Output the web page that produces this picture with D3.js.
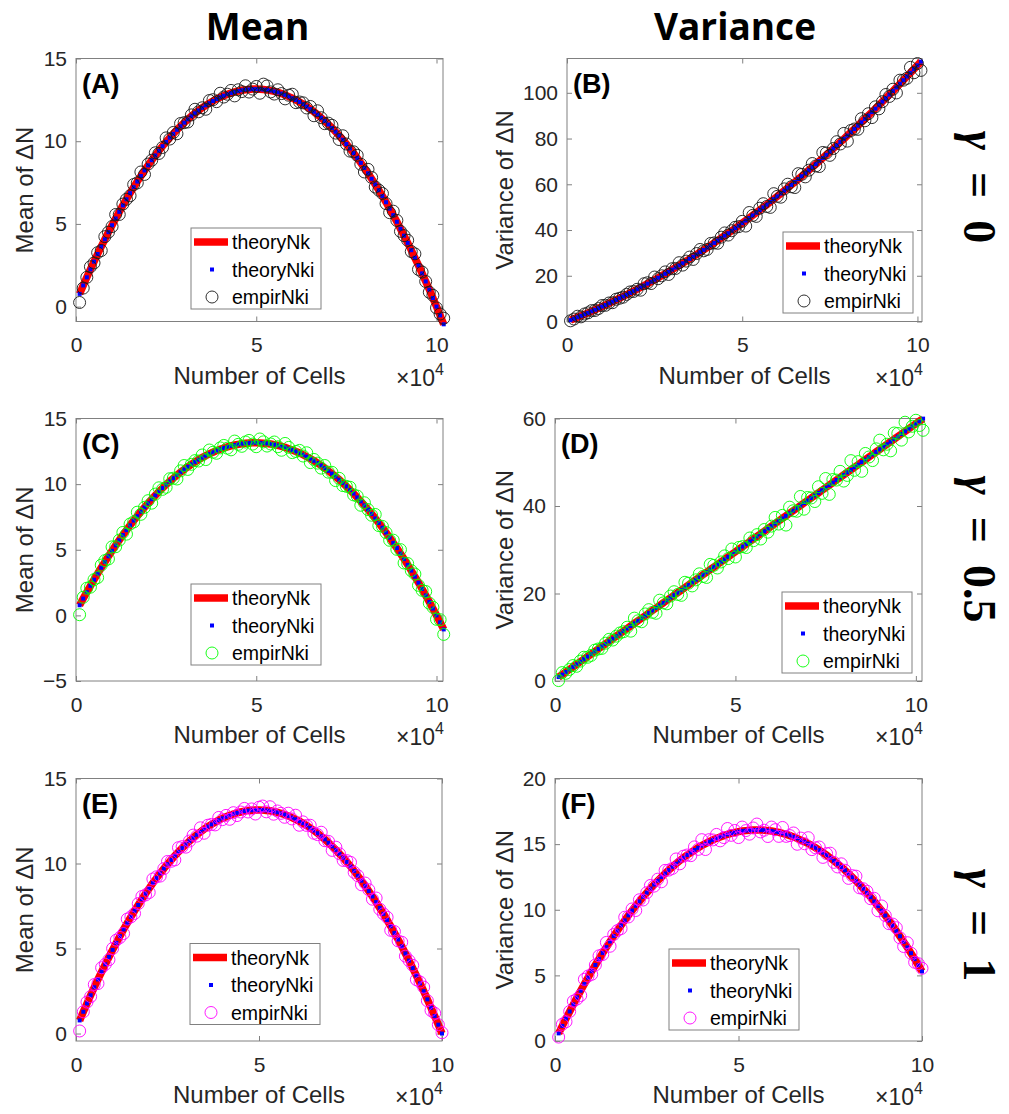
<!DOCTYPE html>
<html>
<head>
<meta charset="utf-8">
<script src="https://d3js.org/d3.v7.min.js"></script>
<style>
  body { margin: 0; background: #fff; }
  svg { font-family: "Liberation Sans", Arial, sans-serif; }
</style>
</head>
<body>
<div id="chart"></div>
<script>
// number of cells for every sample (shown in units of 10^4 on the axis)
const cells = [1000, 2000, 3000, 4000, 5000, 6000, 7000, 8000, 9000, 10000,
  11000, 12000, 13000, 14000, 15000, 16000, 17000, 18000, 19000, 20000,
  21000, 22000, 23000, 24000, 25000, 26000, 27000, 28000, 29000, 30000,
  31000, 32000, 33000, 34000, 35000, 36000, 37000, 38000, 39000, 40000,
  41000, 42000, 43000, 44000, 45000, 46000, 47000, 48000, 49000, 50000,
  51000, 52000, 53000, 54000, 55000, 56000, 57000, 58000, 59000, 60000,
  61000, 62000, 63000, 64000, 65000, 66000, 67000, 68000, 69000, 70000,
  71000, 72000, 73000, 74000, 75000, 76000, 77000, 78000, 79000, 80000,
  81000, 82000, 83000, 84000, 85000, 86000, 87000, 88000, 89000, 90000,
  91000, 92000, 93000, 94000, 95000, 96000, 97000, 98000, 99000, 100000,
  101000, 102000];

// theory mean of dN (same curve in A, C, E)
const meanTheory = [0.77, 1.28, 1.77, 2.25, 2.72, 3.18, 3.63, 4.07, 4.50, 4.92,
  5.33, 5.73, 6.12, 6.49, 6.86, 7.22, 7.56, 7.90, 8.23, 8.54,
  8.85, 9.14, 9.42, 9.70, 9.96, 10.21, 10.45, 10.69, 10.91, 11.12,
  11.32, 11.51, 11.69, 11.86, 12.02, 12.17, 12.30, 12.43, 12.55, 12.66,
  12.75, 12.84, 12.91, 12.98, 13.03, 13.08, 13.11, 13.13, 13.15, 13.15,
  13.14, 13.12, 13.10, 13.06, 13.01, 12.95, 12.88, 12.80, 12.70, 12.60,
  12.49, 12.37, 12.24, 12.09, 11.94, 11.78, 11.60, 11.42, 11.22, 11.01,
  10.80, 10.57, 10.34, 10.09, 9.83, 9.56, 9.28, 8.99, 8.69, 8.38,
  8.06, 7.73, 7.39, 7.04, 6.68, 6.31, 5.92, 5.53, 5.13, 4.71,
  4.29, 3.85, 3.41, 2.95, 2.49, 2.01, 1.52, 1.03, 0.52, 0.00,
  -0.53, -1.07];

const empirA = [0.25, 1.12, 1.77, 2.41, 2.64, 3.26, 3.39, 4.23, 4.50, 4.84,
  5.57, 5.57, 6.20, 6.49, 6.70, 7.38, 7.48, 8.14, 7.99, 8.62,
  8.85, 9.30, 9.26, 9.62, 10.20, 10.13, 10.53, 10.45, 11.07, 11.12,
  11.16, 11.59, 11.93, 11.78, 12.02, 11.93, 12.46, 12.51, 12.39, 12.90,
  12.67, 12.84, 13.07, 12.74, 13.11, 13.00, 13.35, 12.97, 13.15, 13.31,
  12.90, 13.45, 13.34, 12.98, 12.85, 13.11, 12.88, 12.56, 12.78, 12.84,
  12.33, 12.37, 12.32, 12.01, 12.10, 11.54, 11.84, 11.42, 11.06, 11.09,
  10.96, 10.49, 10.10, 10.33, 9.83, 9.40, 9.36, 9.15, 8.61, 8.14,
  8.30, 7.81, 7.23, 7.04, 6.84, 6.23, 5.68, 5.77, 5.21, 4.55,
  4.29, 4.01, 3.33, 3.19, 2.25, 2.09, 1.52, 0.87, 0.68, -0.08,
  -0.45, -0.70];

const empirC = [0.05, 1.38, 2.07, 2.15, 2.72, 2.88, 3.83, 4.17, 4.30, 5.22,
  5.23, 5.73, 6.32, 6.19, 6.96, 7.12, 7.86, 7.70, 8.23, 8.74,
  8.55, 9.24, 9.72, 9.60, 9.76, 10.41, 10.45, 10.39, 11.01, 11.42,
  11.12, 11.51, 11.79, 11.76, 12.22, 11.87, 12.60, 12.43, 12.35, 12.76,
  12.95, 12.74, 12.61, 13.28, 13.03, 12.88, 13.21, 13.33, 13.05, 12.85,
  13.44, 13.22, 12.90, 13.06, 13.21, 12.85, 12.58, 13.10, 12.80, 12.40,
  12.49, 12.57, 12.14, 12.39, 11.64, 11.88, 11.60, 11.22, 11.42, 10.91,
  10.90, 10.27, 10.44, 9.89, 9.83, 9.76, 9.18, 9.09, 8.39, 8.58,
  8.06, 7.63, 7.69, 6.84, 6.78, 6.31, 5.72, 5.73, 5.03, 5.01,
  3.99, 3.95, 3.41, 3.15, 2.29, 1.91, 1.82, 0.93, 0.62, -0.30,
  -0.33, -1.45];

const empirE = [0.15, 1.28, 1.85, 2.17, 2.88, 2.94, 3.87, 4.07, 4.34, 5.00,
  5.49, 5.65, 5.88, 6.73, 6.86, 7.06, 7.64, 8.06, 8.15, 8.30,
  9.09, 9.22, 9.26, 9.70, 10.12, 10.13, 10.21, 10.93, 10.99, 10.96,
  11.32, 11.67, 11.61, 12.10, 11.78, 12.25, 12.30, 12.27, 12.71, 12.58,
  12.83, 12.60, 12.99, 12.82, 13.03, 13.24, 13.03, 13.21, 12.91, 13.31,
  13.38, 13.04, 13.34, 12.90, 13.09, 12.95, 12.72, 12.96, 12.62, 12.84,
  12.25, 12.45, 12.24, 12.25, 11.78, 11.70, 11.84, 11.34, 11.30, 10.77,
  10.96, 10.57, 10.18, 10.17, 10.07, 9.48, 9.28, 8.75, 8.85, 8.46,
  7.90, 7.97, 7.31, 7.04, 6.84, 6.07, 6.00, 5.45, 5.37, 4.55,
  4.29, 4.01, 3.17, 3.03, 2.73, 1.93, 1.36, 1.19, 0.52, 0.05];

// theory variance, gamma = 0
const varTheory0 = [0.61, 1.22, 1.85, 2.48, 3.13, 3.79, 4.45, 5.13, 5.82, 6.52,
  7.23, 7.95, 8.68, 9.42, 10.17, 10.93, 11.70, 12.48, 13.28, 14.08,
  14.89, 15.72, 16.55, 17.40, 18.25, 19.12, 19.99, 20.88, 21.77, 22.68,
  23.60, 24.52, 25.46, 26.41, 27.37, 28.34, 29.32, 30.31, 31.31, 32.32,
  33.34, 34.37, 35.41, 36.47, 37.53, 38.60, 39.69, 40.78, 41.89, 43.00,
  44.13, 45.26, 46.41, 47.56, 48.73, 49.91, 51.09, 52.29, 53.50, 54.72,
  55.95, 57.19, 58.44, 59.70, 60.97, 62.25, 63.54, 64.84, 66.16, 67.48,
  68.81, 70.16, 71.51, 72.88, 74.25, 75.64, 77.03, 78.44, 79.85, 81.28,
  82.72, 84.16, 85.62, 87.09, 88.57, 90.06, 91.56, 93.07, 94.59, 96.12,
  97.66, 99.21, 100.77, 102.35, 103.93, 105.52, 107.13, 108.74, 110.37, 112.00,
  113.65];

const empirB = [0.30, 1.07, 2.30, 2.03, 3.28, 3.79, 4.75, 4.83, 5.67, 6.97,
  7.08, 8.10, 8.23, 9.72, 10.17, 10.63, 11.85, 12.93, 13.13, 14.08,
  13.69, 16.52, 16.95, 16.60, 19.45, 18.72, 19.99, 21.68, 20.57, 23.08,
  23.20, 25.72, 24.66, 26.41, 28.17, 27.14, 29.72, 31.51, 30.91, 31.52,
  34.14, 34.37, 34.21, 36.87, 38.73, 37.80, 39.69, 41.18, 41.49, 43.80,
  41.73, 47.66, 46.41, 45.96, 49.53, 51.51, 50.29, 49.89, 55.90, 54.72,
  54.35, 57.99, 60.04, 58.90, 58.57, 64.65, 64.34, 63.24, 66.16, 69.08,
  68.01, 67.76, 73.91, 73.68, 72.65, 75.64, 78.63, 77.64, 82.25, 78.88,
  83.52, 84.16, 84.02, 88.69, 87.77, 90.86, 89.16, 93.87, 92.99, 96.12,
  99.26, 98.41, 101.57, 99.95, 105.53, 105.52, 106.33, 111.14, 108.77, 112.80,
  109.80];

// theory variance, gamma = 0.5
const varTheory05 = [0.89, 1.47, 2.06, 2.64, 3.23, 3.81, 4.40, 4.98, 5.57, 6.15,
  6.74, 7.32, 7.91, 8.49, 9.08, 9.66, 10.25, 10.83, 11.42, 12.00,
  12.59, 13.17, 13.76, 14.34, 14.93, 15.51, 16.10, 16.68, 17.27, 17.85,
  18.44, 19.02, 19.61, 20.19, 20.78, 21.36, 21.95, 22.53, 23.12, 23.70,
  24.29, 24.87, 25.46, 26.04, 26.63, 27.21, 27.80, 28.38, 28.97, 29.55,
  30.14, 30.72, 31.31, 31.89, 32.48, 33.06, 33.65, 34.23, 34.82, 35.40,
  35.99, 36.57, 37.16, 37.74, 38.33, 38.91, 39.50, 40.08, 40.67, 41.25,
  41.84, 42.42, 43.01, 43.59, 44.18, 44.76, 45.35, 45.93, 46.52, 47.10,
  47.69, 48.27, 48.86, 49.44, 50.03, 50.61, 51.20, 51.78, 52.37, 52.95,
  53.54, 54.12, 54.71, 55.29, 55.88, 56.46, 57.05, 57.63, 58.22, 58.80,
  59.39, 59.97];

const empirD = [0.10, 1.92, 1.76, 2.64, 3.53, 3.36, 4.55, 5.43, 5.42, 5.85,
  7.04, 7.32, 7.46, 8.64, 9.53, 9.36, 10.25, 10.98, 11.27, 12.30,
  11.39, 14.37, 13.76, 13.54, 15.33, 16.31, 15.70, 15.48, 18.47, 17.85,
  17.64, 19.42, 20.41, 19.79, 19.58, 22.56, 22.35, 21.73, 23.12, 24.50,
  23.89, 23.67, 26.66, 26.44, 25.83, 27.21, 28.60, 27.98, 30.17, 28.35,
  30.54, 30.72, 30.51, 32.69, 32.08, 33.46, 32.45, 34.63, 34.02, 35.40,
  37.39, 35.87, 37.86, 35.64, 39.73, 38.91, 38.80, 42.18, 39.27, 41.95,
  41.84, 41.02, 44.41, 42.89, 46.28, 42.66, 46.05, 45.93, 47.92, 45.70,
  46.99, 50.37, 48.16, 50.14, 47.93, 52.01, 51.20, 50.38, 53.07, 55.05,
  52.84, 54.12, 52.61, 56.69, 56.58, 55.06, 59.15, 56.93, 58.22, 59.60,
  58.40, 57.30];

// theory variance, gamma = 1
const varTheory1 = [0.58, 1.15, 1.71, 2.25, 2.79, 3.32, 3.83, 4.34, 4.83, 5.32,
  5.79, 6.25, 6.71, 7.15, 7.58, 8.00, 8.41, 8.81, 9.19, 9.57,
  9.94, 10.30, 10.64, 10.98, 11.30, 11.61, 11.92, 12.21, 12.49, 12.76,
  13.02, 13.27, 13.51, 13.74, 13.96, 14.17, 14.36, 14.55, 14.72, 14.89,
  15.04, 15.19, 15.32, 15.44, 15.55, 15.65, 15.74, 15.82, 15.89, 15.95,
  16.00, 16.03, 16.06, 16.08, 16.08, 16.08, 16.06, 16.03, 16.00, 15.95,
  15.89, 15.82, 15.74, 15.65, 15.55, 15.44, 15.31, 15.18, 15.04, 14.88,
  14.72, 14.54, 14.35, 14.16, 13.95, 13.73, 13.50, 13.26, 13.01, 12.75,
  12.48, 12.20, 11.91, 11.60, 11.29, 10.96, 10.63, 10.28, 9.93, 9.56,
  9.18, 8.79, 8.39, 7.98, 7.56, 7.13, 6.69, 6.24, 5.77, 5.30];

const empirF = [0.30, 1.27, 1.47, 2.25, 3.03, 3.20, 3.47, 4.70, 4.95, 5.08,
  5.79, 6.49, 6.59, 7.51, 7.22, 8.12, 8.41, 8.57, 9.43, 9.45,
  10.06, 9.94, 10.76, 10.74, 11.30, 11.85, 11.80, 12.33, 12.13, 13.00,
  13.02, 13.15, 13.87, 13.50, 14.08, 14.17, 14.12, 14.79, 14.60, 15.34,
  14.59, 15.34, 15.32, 15.74, 15.25, 15.50, 16.19, 15.67, 16.04, 15.50,
  16.30, 16.03, 15.76, 16.23, 16.53, 15.93, 16.06, 15.58, 16.30, 16.10,
  15.59, 16.27, 15.59, 15.65, 15.85, 14.99, 15.46, 15.03, 15.49, 14.58,
  14.72, 14.78, 13.99, 14.28, 14.31, 13.61, 13.26, 13.50, 13.01, 12.39,
  12.60, 12.56, 11.67, 11.60, 11.41, 10.84, 10.87, 9.92, 10.29, 9.56,
  8.94, 8.91, 8.63, 7.86, 7.20, 7.49, 6.69, 6.00, 5.89, 5.54];

// tick values
const cellTicks = [0, 50000, 100000];
const meanTicks = [0, 5, 10, 15];
const meanTicksWide = [-5, 0, 5, 10, 15];
const varTicks0 = [0, 20, 40, 60, 80, 100];
const varTicks05 = [0, 20, 40, 60];
const varTicks1 = [0, 5, 10, 15, 20];

const legendLabels = ['theoryNk', 'theoryNki', 'empirNki'];
const colTitles = ['Mean', 'Variance'];
const gammaValues = ['0', '0.5', '1'];

var frameColor = '#808080';
var tickColor = '#262626';

var svg = d3.select('#chart')
    .append('svg')
    .attr('width', 1009)
    .attr('height', 1114);

var panels = [
    { tag: '(A)', theory: meanTheory, empir: empirA, color: '#1a1a1a',
      box: [76, 443, 58.5, 321.5], xMax: 101800, yDomain: [-0.9, 15], yTicks: meanTicks,
      yLabel: 'Mean of \u0394N', yLabelX: 33, legend: [191, 228] },
    { tag: '(B)', theory: varTheory0, empir: empirB, color: '#1a1a1a',
      box: [567, 922, 58.5, 321.5], xMax: 101300, yDomain: [0, 115], yTicks: varTicks0,
      yLabel: 'Variance of \u0394N', yLabelX: 513, legend: [783, 232] },
    { tag: '(C)', theory: meanTheory, empir: empirC, color: '#00ff00',
      box: [76, 443, 418.5, 681], xMax: 101800, yDomain: [-5, 15], yTicks: meanTicksWide,
      yLabel: 'Mean of \u0394N', yLabelX: 33, legend: [191, 584] },
    { tag: '(D)', theory: varTheory05, empir: empirD, color: '#00ff00',
      box: [555, 922, 418.5, 681], xMax: 101700, yDomain: [0, 60], yTicks: varTicks05,
      yLabel: 'Variance of \u0394N', yLabelX: 513, legend: [782, 592] },
    { tag: '(E)', theory: meanTheory.slice(0, 100), empir: empirE, color: '#ff00ff',
      box: [76, 442, 778.5, 1041], xMax: 100000, yDomain: [-0.44, 15], yTicks: meanTicks,
      yLabel: 'Mean of \u0394N', yLabelX: 33, legend: [190, 943.5] },
    { tag: '(F)', theory: varTheory1, empir: empirF, color: '#ff00ff',
      box: [555, 922, 778.5, 1041], xMax: 100000, yDomain: [0, 20], yTicks: varTicks1,
      yLabel: 'Variance of \u0394N', yLabelX: 513, legend: [669, 949] }
];

function styleAxis(ax) {
    ax.attr('font-size', null).attr('font-family', null);
    ax.select('.domain').remove();
    ax.selectAll('.tick line').attr('stroke', frameColor);
    ax.selectAll('.tick text')
        .attr('fill', tickColor)
        .style('font-size', '21px');
}

function drawPanel(p) {
    var left = p.box[0], right = p.box[1], top = p.box[2], bottom = p.box[3];
    var x = d3.scaleLinear().domain([0, p.xMax]).range([left, right]);
    var y = d3.scaleLinear().domain(p.yDomain).range([bottom, top]);
    var g = svg.append('g');

    // ticks on all four sides, pointing inward
    g.append('g').attr('transform', 'translate(0,' + bottom + ')')
        .call(d3.axisBottom(x).tickValues(cellTicks).tickSize(-5).tickPadding(16)
            .tickFormat(function (d) { return d / 10000; }))
        .call(styleAxis);
    g.append('g').attr('transform', 'translate(0,' + top + ')')
        .call(d3.axisTop(x).tickValues(cellTicks).tickSize(-5).tickFormat(''))
        .call(styleAxis);
    g.append('g').attr('transform', 'translate(' + left + ',0)')
        .call(d3.axisLeft(y).tickValues(p.yTicks).tickSize(-5).tickPadding(9))
        .call(styleAxis);
    g.append('g').attr('transform', 'translate(' + right + ',0)')
        .call(d3.axisRight(y).tickValues(p.yTicks).tickSize(-5).tickFormat(''))
        .call(styleAxis);

    g.append('rect')
        .attr('x', left).attr('y', top)
        .attr('width', right - left).attr('height', bottom - top)
        .attr('fill', 'none')
        .attr('stroke', frameColor)
        .attr('stroke-width', 1);

    // theoryNk : thick red line
    var line = d3.line()
        .x(function (d, i) { return x(cells[i]); })
        .y(function (d) { return y(d); });
    g.append('path')
        .datum(p.theory)
        .attr('d', line)
        .attr('fill', 'none')
        .attr('stroke', '#ff0000')
        .attr('stroke-width', 7.5);

    // theoryNki : small blue squares
    g.selectAll('rect.nki')
        .data(p.theory)
        .enter().append('rect')
        .attr('class', 'nki')
        .attr('x', function (d, i) { return x(cells[i]) - 2; })
        .attr('y', function (d) { return y(d) - 2; })
        .attr('width', 4).attr('height', 4)
        .attr('fill', '#0000ff');

    // empirNki : open circles
    g.selectAll('circle.emp')
        .data(p.empir)
        .enter().append('circle')
        .attr('class', 'emp')
        .attr('cx', function (d, i) { return x(cells[i]); })
        .attr('cy', function (d) { return y(d); })
        .attr('r', 6)
        .attr('fill', 'none')
        .attr('stroke', p.color)
        .attr('stroke-width', 0.9);

    // panel tag
    g.append('text')
        .attr('x', left + 6).attr('y', top + 34)
        .attr('font-size', 27)
        .attr('font-weight', 'bold')
        .attr('fill', '#000')
        .text(p.tag);

    // axis titles
    g.append('text')
        .attr('x', (left + right) / 2).attr('y', bottom + 62)
        .attr('text-anchor', 'middle')
        .attr('font-size', 24)
        .attr('fill', tickColor)
        .text('Number of Cells');

    var mult = g.append('text')
        .attr('x', right + 1).attr('y', bottom + 64)
        .attr('text-anchor', 'end')
        .attr('font-size', 23)
        .attr('fill', tickColor);
    mult.append('tspan').text('\u00d710');
    mult.append('tspan').attr('dy', -11).attr('font-size', 16).text('4');

    g.append('text')
        .attr('transform', 'translate(' + p.yLabelX + ',' + (top + bottom) / 2 + ') rotate(-90)')
        .attr('text-anchor', 'middle')
        .attr('font-size', 24)
        .attr('fill', tickColor)
        .text(p.yLabel);

    drawLegend(p);
}

function drawLegend(p) {
    var lg = svg.append('g')
        .attr('transform', 'translate(' + p.legend[0] + ',' + p.legend[1] + ')');
    lg.append('rect')
        .attr('width', 130).attr('height', 81)
        .attr('fill', '#fff')
        .attr('stroke', frameColor)
        .attr('stroke-width', 1);

    var rowY = [14, 41.5, 69];
    lg.append('line')
        .attr('x1', 3).attr('x2', 37)
        .attr('y1', rowY[0]).attr('y2', rowY[0])
        .attr('stroke', '#ff0000').attr('stroke-width', 7.5);
    lg.append('rect')
        .attr('x', 19).attr('y', rowY[1] - 2)
        .attr('width', 4).attr('height', 4)
        .attr('fill', '#0000ff');
    lg.append('circle')
        .attr('cx', 21).attr('cy', rowY[2]).attr('r', 6)
        .attr('fill', 'none')
        .attr('stroke', p.color).attr('stroke-width', 0.9);

    lg.selectAll('text.lab')
        .data(legendLabels)
        .enter().append('text')
        .attr('class', 'lab')
        .attr('x', 41)
        .attr('y', function (d, i) { return rowY[i] + 7; })
        .attr('font-size', 19.5)
        .attr('fill', '#000')
        .text(function (d) { return d; });
}

panels.forEach(drawPanel);

// column headings
svg.selectAll('text.coltitle')
    .data(colTitles)
    .enter().append('text')
    .attr('class', 'coltitle')
    .attr('x', function (d, i) { return [257.5, 735][i]; })
    .attr('y', 40)
    .attr('text-anchor', 'middle')
    .attr('font-family', '"Open Sans", sans-serif')
    .attr('font-weight', 700)
    .attr('font-size', 37)
    .attr('fill', '#000')
    .text(function (d) { return d; });

// gamma labels down the right side
var rowCenters = [187, 549, 925];
gammaValues.forEach(function (v, i) {
    var t = svg.append('text')
        .attr('transform', 'translate(980,' + rowCenters[i] + ') rotate(90)')
        .attr('text-anchor', 'middle')
        .attr('dy', '0.35em')
        .attr('font-family', '"Liberation Serif", "DejaVu Serif", serif')
        .attr('font-weight', 'bold')
        .attr('font-size', 46)
        .attr('fill', '#000');
    t.append('tspan').attr('font-style', 'italic').text('\u03b3');
    t.append('tspan').attr('dx', 22).text('=');
    t.append('tspan').attr('dx', 22).text(v);
});
</script>
</body>
</html>
